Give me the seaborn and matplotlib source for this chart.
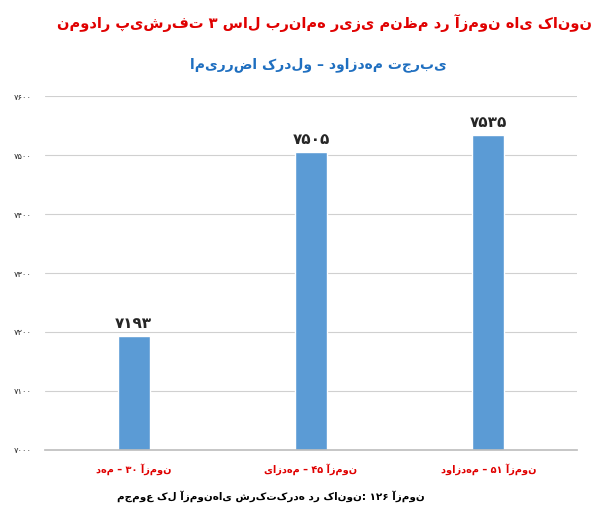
import matplotlib
matplotlib.use("Agg")
import matplotlib.pyplot as plt
import seaborn as sns
import pandas as pd

categories = ["دهم – ۳۰ آزمون", "یازدهم – ۴۵ آزمون", "دوازدهم – ۵۱ آزمون"]
values = [7193, 7505, 7535]
value_labels = ["۷۱۹۳", "۷۵۰۵", "۷۵۳۵"]
yticks = [7000, 7100, 7200, 7300, 7400, 7500, 7600]
ytick_labels = ["۷۰۰۰", "۷۱۰۰", "۷۲۰۰", "۷۳۰۰", "۷۴۰۰", "۷۵۰۰", "۷۶۰۰"]
title = "نمودار پیشرفت ۳ سال برنامه ریزی منظم در آزمون های کانون"
subtitle = "امیررضا کردلو – دوازدهم تجربی"
footer = "مجموع کل آزمون‌های شرکت‌کرده در کانون: ۱۲۶ آزمون"

try:
    import arabic_reshaper
    from bidi.algorithm import get_display
    def fa(s):
        return get_display(arabic_reshaper.reshape(s))
except Exception:
    def fa(s):
        return s

sns.set_theme(style="white")
plt.rcParams['font.family'] = ['DejaVu Sans']

fig = plt.figure(figsize=(6.01, 5.20), dpi=100)
ax = fig.add_axes([0.075, 0.135, 0.885, 0.68])
df = pd.DataFrame({"cat": [fa(c) for c in categories], "val": values})
sns.barplot(data=df, x="cat", y="val", color="#5b9bd5", width=0.18, ax=ax, saturation=1)
ax.set_ylim(7000, 7600)
ax.set_yticks(yticks)
ax.set_yticklabels(ytick_labels, fontsize=6)
ax.yaxis.grid(True, color="#d0d0d0", lw=0.8)
ax.set_axisbelow(True)
for s in ["top", "right", "left"]:
    ax.spines[s].set_visible(False)
ax.spines["bottom"].set_color("#bfbfbf")
ax.set_xlabel("")
ax.set_ylabel("")
for lab in ax.get_xticklabels():
    lab.set_color("#e00000")
    lab.set_fontsize(7)
    lab.set_fontweight("bold")
for i, (v, t) in enumerate(zip(values, value_labels)):
    ax.text(i, v + 8, fa(t), ha="center", va="bottom", fontsize=11, fontweight="bold")

fig.text(0.985, 0.955, fa(title), ha="right", va="center", color="#e00000", fontsize=10.5, fontweight="bold")
fig.text(0.53, 0.875, fa(subtitle), ha="center", va="center", color="#1f6fc0", fontsize=10, fontweight="bold")
fig.text(0.45, 0.045, fa(footer), ha="center", va="center", color="black", fontsize=7.5, fontweight="bold")
fig.savefig("out.png", dpi=100)
